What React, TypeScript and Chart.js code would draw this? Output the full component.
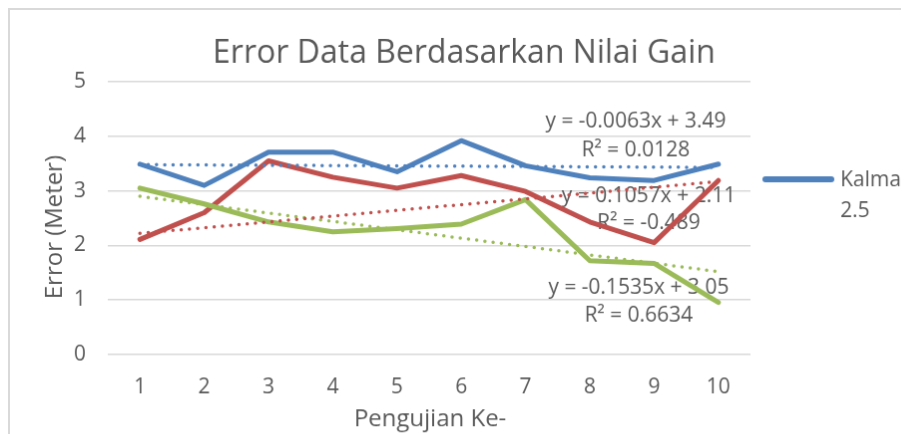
import React, { useEffect, useRef } from "react";
import { Chart, registerables } from "chart.js";

Chart.register(...registerables);

const categories = ["1", "2", "3", "4", "5", "6", "7", "8", "9", "10"];
const blueValues = [3.49, 3.1, 3.71, 3.71, 3.35, 3.92, 3.46, 3.24, 3.19, 3.49];
const redValues = [2.11, 2.6, 3.55, 3.25, 3.05, 3.28, 2.99, 2.43, 2.05, 3.19];
const greenValues = [3.05, 2.76, 2.43, 2.25, 2.31, 2.39, 2.84, 1.72, 1.67, 0.955];
const blueTrend = [3.48, null, null, null, null, null, null, null, null, 3.43];
const redTrend = [2.22, null, null, null, null, null, null, null, null, 3.17];
const greenTrend = [2.9, null, null, null, null, null, null, null, null, 1.52];
const yTicks = [0, 1, 2, 3, 4, 5];
const trendLabels = [
  ["y = -0.0063x + 3.49", "R² = 0.0128"],
  ["y = 0.1057x + 2.11", "R² = -0.489"],
  ["y = -0.1535x + 3.05", "R² = 0.6634"],
];
const titleText = "Error Data Berdasarkan Nilai Gain";
const xTitle = "Pengujian Ke-";
const yTitle = "Error (Meter)";
const legendLines = ["Kalman", "2.5"];

const BLUE = "#4F81BD";
const RED = "#C0504D";
const GREEN = "#9BBB59";
const TEXT = "#595959";
const FONT = "'Open Sans', sans-serif";

export default function App() {
  const ref = useRef<HTMLCanvasElement | null>(null);
  useEffect(() => {
    document.documentElement.style.overflow = "hidden";
    document.body.style.overflow = "hidden";
    const canvas = ref.current;
    if (!canvas) return;

    const overlay = {
      id: "overlay",
      beforeDatasetsDraw(chart: any) {
        const ctx = chart.ctx;
        ctx.save();
        ctx.fillStyle = TEXT;
        ctx.font = `21px ${FONT}`;
        ctx.textAlign = "center";
        ctx.textBaseline = "alphabetic";
        const pos = [
          [627, 118, 147],
          [640, 193, 220],
          [630, 285, 313],
        ];
        trendLabels.forEach((pair, i) => {
          ctx.fillText(pair[0], pos[i][0], pos[i][1]);
          ctx.fillText(pair[1], pos[i][0], pos[i][2]);
        });
        ctx.restore();
      },
      afterDraw(chart: any) {
        const ctx = chart.ctx;
        ctx.save();
        ctx.fillStyle = TEXT;
        ctx.textAlign = "center";
        ctx.textBaseline = "alphabetic";
        ctx.font = `32px ${FONT}`;
        ctx.fillText(titleText, 455, 53);
        ctx.font = `24px ${FONT}`;
        ctx.fillText(xTitle, 421, 418);
        ctx.save();
        ctx.translate(45, 218);
        ctx.rotate(-Math.PI / 2);
        ctx.textBaseline = "middle";
        ctx.font = `24px ${FONT}`;
        ctx.fillText(yTitle, 0, 0);
        ctx.restore();
        // legend
        ctx.strokeStyle = BLUE;
        ctx.lineWidth = 6;
        ctx.lineCap = "round";
        ctx.beginPath();
        ctx.moveTo(757, 170);
        ctx.lineTo(823, 170);
        ctx.stroke();
        ctx.font = `21px ${FONT}`;
        ctx.textAlign = "left";
        ctx.fillText(legendLines[0], 832, 177);
        ctx.fillText(legendLines[1], 832, 208);
        ctx.restore();
      },
    };

    const trendDs = (data: any[], color: string) => ({
      data,
      borderColor: color,
      backgroundColor: color,
      borderWidth: 3.5,
      borderDash: [0, 8.3],
      borderCapStyle: "round",
      pointRadius: 0,
      spanGaps: true,
      fill: false,
      order: 0,
    });
    const lineDs = (data: number[], color: string, order: number) => ({
      data,
      borderColor: color,
      backgroundColor: color,
      borderWidth: 5,
      borderJoinStyle: "round",
      borderCapStyle: "round",
      pointRadius: 0,
      fill: false,
      tension: 0,
      order,
    });

    const chart = new Chart(canvas, {
      type: "line",
      data: {
        labels: categories,
        datasets: [
          lineDs(blueValues, BLUE, 3) as any,
          lineDs(redValues, RED, 2) as any,
          lineDs(greenValues, GREEN, 1) as any,
          trendDs(blueTrend, BLUE) as any,
          trendDs(redTrend, RED) as any,
          trendDs(greenTrend, GREEN) as any,
        ],
      },
      options: {
        animation: false,
        responsive: false,
        events: [],
        layout: { padding: { top: 72, left: 0, right: 218, bottom: 0 } },
        plugins: {
          legend: { display: false },
          tooltip: { enabled: false },
          title: { display: false },
        },
        scales: {
          x: {
            type: "category",
            offset: true,
            grid: { display: false, drawTicks: false },
            border: { display: false },
            ticks: {
              color: TEXT,
              font: { family: FONT, size: 21 },
              padding: 20,
              maxRotation: 0,
            },
            afterFit(scale: any) {
              scale.height = 124;
            },
          },
          y: {
            min: 0,
            max: 5,
            afterBuildTicks(scale: any) {
              scale.ticks = yTicks.map((v) => ({ value: v }));
            },
            grid: { color: "#d9d9d9", lineWidth: 1.5, drawTicks: false },
            border: { display: false },
            ticks: {
              color: TEXT,
              font: { family: FONT, size: 21 },
              padding: 22,
            },
            afterFit(scale: any) {
              scale.width = 98;
            },
          },
        },
      },
      plugins: [overlay],
    });
    return () => chart.destroy();
  }, []);

  return (
    <div
      style={{
        width: 901,
        height: 426,
        overflow: "hidden",
        position: "relative",
      }}
    >
      <canvas
        ref={ref}
        width={960}
        height={470}
        style={{
          display: "block",
          width: 960,
          height: 470,
          borderLeft: "2px solid #d9d9d9",
          borderTop: "2px solid #d9d9d9",
        }}
      />
    </div>
  );
}
